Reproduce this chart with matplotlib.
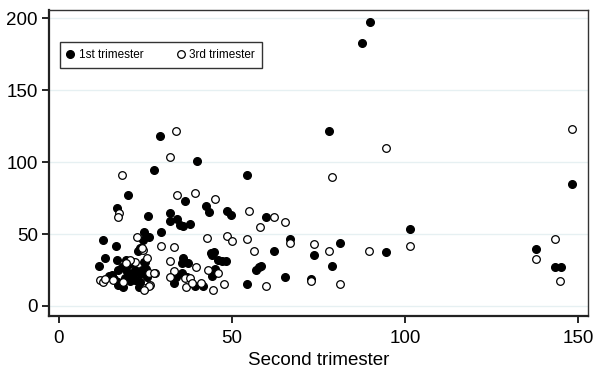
import numpy as np
from matplotlib import pyplot as plt

plt.rcParams['font.family'] = ['Liberation Sans', 'DejaVu Sans']

# 1st trimester (filled markers)
x1 = [89.9, 87.5, 78, 29.2, 27.5, 39.9, 54.3, 148.3, 101.4, 81.2, 73.7, 94.5, 78.9, 72.8,
      137.9, 143.4, 145.1,
      19.9, 16.7, 25.7, 12.6, 16.4, 13.4, 11.6, 24.6, 26, 29.4, 22.7, 23.3, 24.2, 24.6,
      32.2, 32, 34, 35, 35.7, 37.9, 36.4, 42.6, 43.2, 48.5, 49.8, 59.8, 66.7, 62.2, 56.9,
      57.7, 58.4, 65.4, 54.4,
      35.8, 35.6, 37.2, 35.4, 36.9, 33.9, 33.3, 39.4, 41.6, 44, 44.8, 44.2, 45.9, 47, 48.3,
      45.1, 44.6, 44.2,
      16.8, 19.4, 20.2, 21.4, 24.9, 25.4, 15.3, 17, 17, 19, 21.1, 22, 23.4, 24, 17, 18.2,
      22, 20, 18.5, 23, 16, 14.5, 25, 23.5, 19.5, 20.5]
y1 = [197, 183, 121.5, 118, 94.4, 100.7, 91, 84.7, 53.5, 43.8, 35.4, 37.5, 27.8, 18.8,
      39.6, 27, 27,
      77, 68, 62.7, 45.6, 41.6, 33, 27.6, 51.4, 48, 51.4, 38, 40, 46, 30.5,
      64.5, 59, 60.4, 56, 55.6, 56.9, 72.7, 69.4, 65.3, 66, 63, 61.8, 46.5, 38, 25,
      27, 28, 20, 15.3,
      33.3, 30, 30, 23, 20, 20, 16, 14, 14, 36.7, 37.5, 35.5, 31.9, 31.3, 31.3,
      25.7, 23, 20.8,
      32, 32, 29, 30.6, 30.6, 20, 21.5, 16.7, 14.6, 19.4, 21.5, 18, 16.7, 25, 25, 27,
      25, 22, 13.5, 13, 19, 21, 26, 22, 25, 17]

# 3rd trimester (open markers)
x3 = [148.3, 94.5, 78.9, 73.7, 78, 89.6, 101.4, 81.2, 72.8, 137.9, 143.4, 144.8,
      33.8, 32, 18.2, 17.3, 17.1, 34.2, 39.4, 45, 42.8, 48.6, 49.9, 54.8, 58.1, 62.1,
      65.4, 66.7, 54.4, 56.4, 59.8,
      29.4, 33.3, 32, 33.3, 32, 36.4, 37.8, 36.7, 39.6, 38.3, 41, 43.1, 46, 47.7, 44.5,
      11.8, 12.7, 13.3, 15.6, 22, 27.7, 26.3, 24.9, 24.3, 18.5, 22.5, 23.9, 26, 26, 24.6,
      27.5, 25.4, 20.5, 19.5]
y3 = [123, 110, 89.6, 43, 38, 38, 42, 15.3, 17, 32.6, 46.5, 17.4,
      121.5, 103.5, 91, 64.5, 62, 77, 78.5, 74.3, 47.2, 48.6, 45, 66, 54.8, 61.8,
      58.3, 43.8, 46.5, 38, 14,
      42, 41, 31, 24.4, 20, 19.4, 19.4, 13, 27, 16, 16, 25, 23, 15.3, 11,
      18, 16.7, 19, 18, 30.6, 23, 14.6, 12.5, 39, 16.7, 48, 40.3, 23, 14, 11,
      23, 33, 32, 30]

fig = plt.figure(figsize=(6.04, 3.74), dpi=100)
ax = fig.add_axes([0.081, 0.155, 0.893, 0.818])

ax.plot(x1, y1, 'o', color='black', markersize=5.5, label='1st trimester')
ax.plot(x3, y3, 'o', markerfacecolor='white', markeredgecolor='black',
        markersize=5.5, markeredgewidth=0.9, label='3rd trimester')

ax.set_xlim(-2.9, 152.9)
ax.set_ylim(-7, 205.6)
ax.set_xticks([0, 50, 100, 150])
ax.set_yticks([0, 50, 100, 150, 200])
for v in [0, 50, 100, 150, 200]:
    ax.axhline(v, color='#e6f0f2', linewidth=1, zorder=0)

ax.tick_params(labelsize=13.5, length=5, width=1.2, direction='out', pad=3)
ax.tick_params(axis='x', pad=5)
for s in ['left', 'bottom']:
    ax.spines[s].set_linewidth(1.6)
    ax.spines[s].set_color('#222222')
for s in ['top', 'right']:
    ax.spines[s].set_linewidth(1.0)
    ax.spines[s].set_color('#333333')

ax.set_xlabel('Second trimester', fontsize=13.5, labelpad=4)

leg = ax.legend(loc='upper left', bbox_to_anchor=(0.02, 0.895), borderaxespad=0,
                ncol=2, fontsize=8.5, frameon=True, fancybox=False, edgecolor='black',
                handlelength=0.6, handletextpad=0.4, columnspacing=2.9, borderpad=0.6)
leg.get_frame().set_linewidth(1.0)

plt.savefig('out.png', dpi=100)
